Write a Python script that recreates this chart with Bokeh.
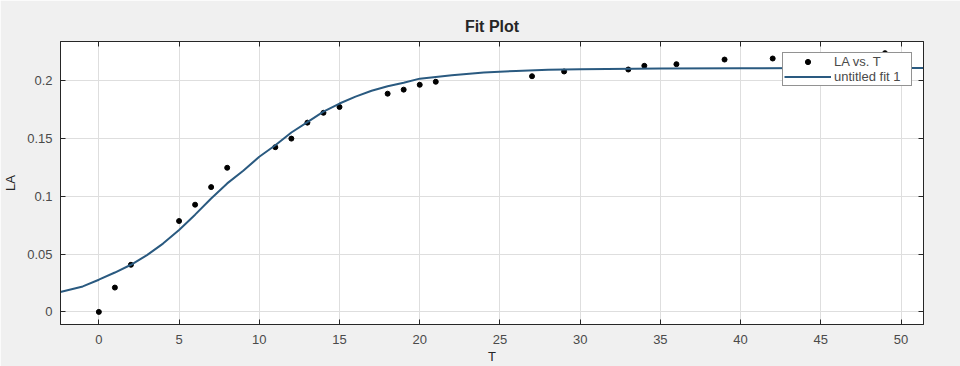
from bokeh.plotting import figure
from bokeh.models import Range1d, FixedTicker, LinearAxis, CustomLabelingPolicy
from bokeh.embed import file_html
from bokeh.resources import INLINE

# Observed data (LA vs. T)
T_obs = [0, 1, 2, 5, 6, 7, 8, 11, 12, 13, 14, 15, 18, 19, 20, 21, 27, 29, 33, 34, 36, 39, 42, 49]
LA_obs = [0.0, 0.021, 0.0407, 0.0785, 0.0926, 0.1078, 0.1245, 0.1423, 0.1497, 0.1635, 0.172, 0.177,
          0.1885, 0.192, 0.1962, 0.1988, 0.2036, 0.2077, 0.2094, 0.2126, 0.214, 0.218, 0.2189, 0.2235]

# Fit curve values ("untitled fit 1")
T_fit = [-2.4, -1, 0, 1, 2, 3, 4, 5, 6, 7, 8, 9, 10, 11, 12, 13, 14, 15, 16, 17, 18, 19, 20,
         22, 24, 26, 28, 30, 35, 40, 45, 51.4]
LA_fit = [0.0172, 0.022, 0.0278, 0.034, 0.0407, 0.049, 0.059, 0.0708, 0.084, 0.098, 0.111, 0.122,
          0.134, 0.144, 0.155, 0.164, 0.173, 0.180, 0.186, 0.191, 0.195, 0.198, 0.2015,
          0.2045, 0.2068, 0.2082, 0.2092, 0.2097, 0.2103, 0.2105, 0.2106, 0.2107]

x_ticks = [0, 5, 10, 15, 20, 25, 30, 35, 40, 45, 50]
y_ticks = [0, 0.05, 0.1, 0.15, 0.2]
y_tick_labels = ["0", "0.05", "0.1", "0.15", "0.2"]

X_START, X_END = -2.39, 51.4
Y_START, Y_END = -0.0109, 0.2336

FONT = "Liberation Sans"
AX = "#262626"
TXT = "#4a4a4a"

p = figure(width=960, height=366, output_backend="svg", toolbar_location=None,
           x_range=Range1d(X_START, X_END), y_range=Range1d(Y_START, Y_END),
           title="Fit Plot", x_axis_label="T", y_axis_label="LA",
           min_border_left=60, min_border_right=37, min_border_top=41, min_border_bottom=41)

p.border_fill_color = "#f0f0f0"
p.background_fill_color = "white"
p.outline_line_color = AX
p.outline_line_width = 1

p.title.align = "center"
p.title.text_font = FONT
p.title.text_font_size = "16px"
p.title.text_font_style = "bold"
p.title.text_color = "#262626"
p.title.standoff = 5

# Extra axes to get ticks on top and right (box on), without labels
no_labels = CustomLabelingPolicy(code="return new Set()")
p.add_layout(LinearAxis(major_label_policy=no_labels), "above")
p.add_layout(LinearAxis(major_label_policy=no_labels), "right")

for ax in p.xaxis:
    ax.ticker = FixedTicker(ticks=x_ticks)
for ax in p.yaxis:
    ax.ticker = FixedTicker(ticks=y_ticks)
    ax.major_label_overrides = {t: s for t, s in zip(y_ticks, y_tick_labels)}

for ax in p.axis:
    ax.major_tick_in = 5
    ax.major_tick_out = 0
    ax.minor_tick_in = 0
    ax.minor_tick_out = 0
    ax.axis_line_color = AX
    ax.axis_line_width = 1
    ax.major_tick_line_color = AX
    ax.major_tick_line_width = 1
    ax.major_label_text_font = FONT
    ax.major_label_text_font_size = "13px"
    ax.major_label_text_color = TXT
    ax.axis_label_text_font = FONT
    ax.axis_label_text_font_size = "13px"
    ax.axis_label_text_font_style = "normal"
    ax.axis_label_text_color = "#262626"

for ax in (p.above[-1], p.right[0]):
    ax.major_label_text_font_size = "1px"
    ax.major_label_standoff = 0

p.below[0].major_label_standoff = 10
p.below[0].axis_label_standoff = 2
p.left[0].major_label_standoff = 8
p.left[0].axis_label_standoff = 6

p.xgrid.ticker = FixedTicker(ticks=x_ticks)
p.ygrid.ticker = FixedTicker(ticks=y_ticks)
p.grid.grid_line_color = "#dedede"
p.grid.grid_line_width = 1

p.scatter(T_obs, LA_obs, size=5, color="black", legend_label="LA vs. T")
p.line(T_fit, LA_fit, line_color="#2a5a80", line_width=2, legend_label="untitled fit 1")

lg = p.legend[0]
lg.location = "top_right"
lg.margin = 11
lg.padding = 1
lg.spacing = 0
lg.glyph_width = 47
lg.glyph_height = 13
lg.label_height = 13
lg.label_width = 76
lg.label_standoff = 3
lg.label_text_font = FONT
lg.label_text_font_size = "13px"
lg.label_text_color = TXT
lg.border_line_color = AX
lg.border_line_width = 1
lg.background_fill_color = "white"
lg.background_fill_alpha = 1

open("out.html", "w").write(file_html(p, INLINE))
